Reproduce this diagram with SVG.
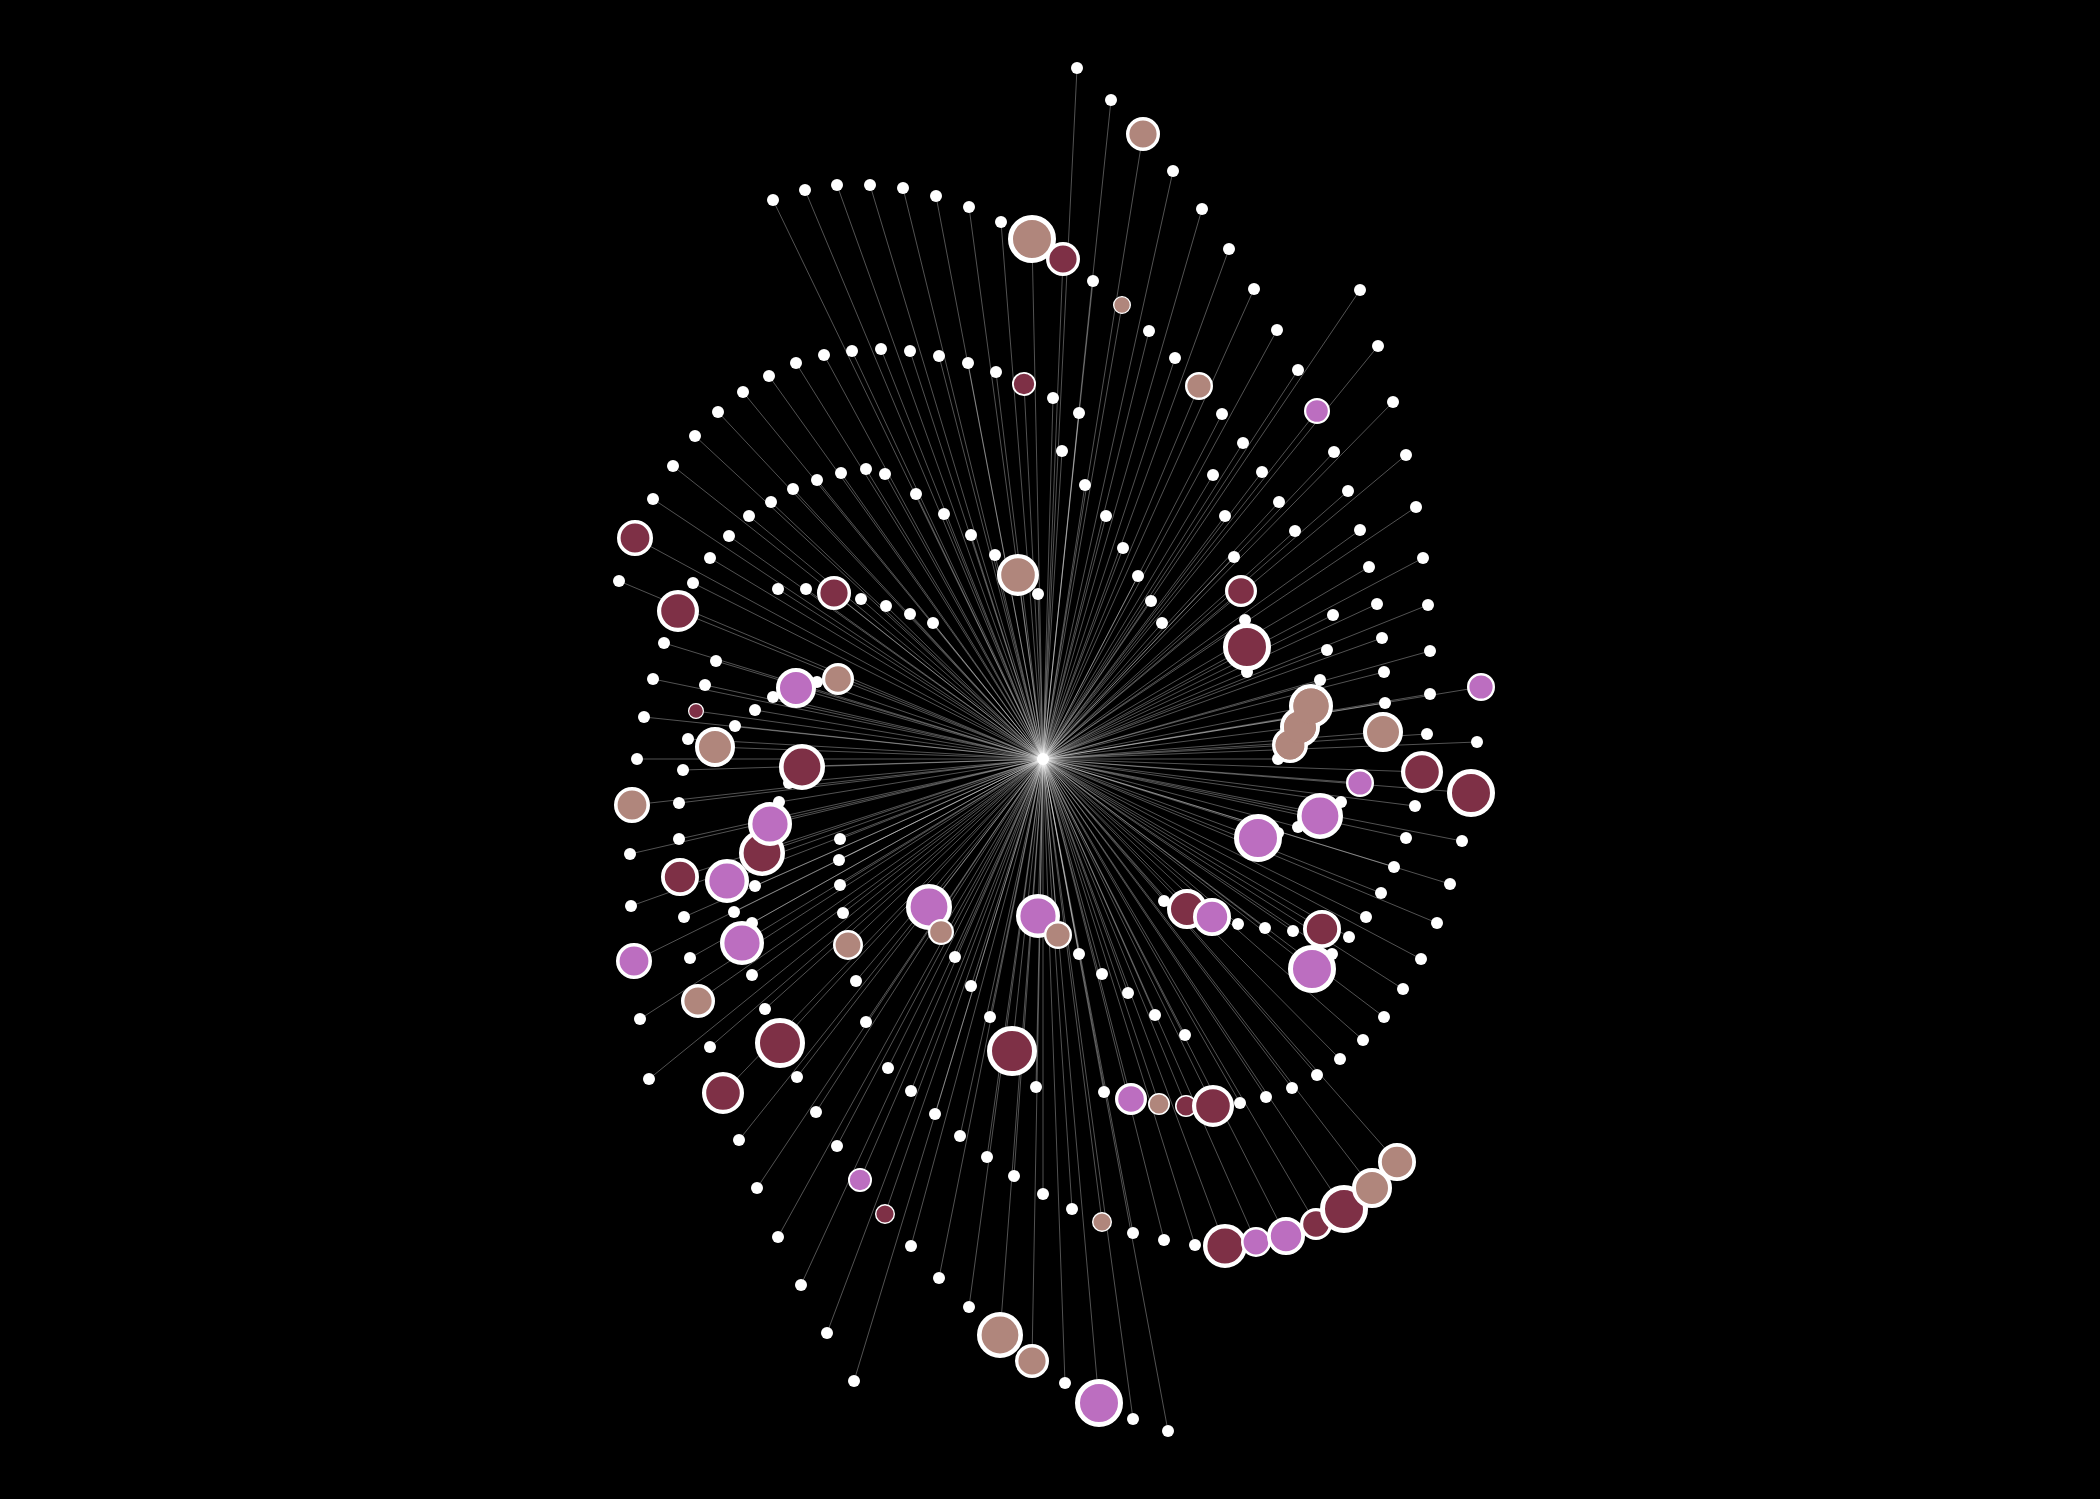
<svg xmlns="http://www.w3.org/2000/svg" width="2100" height="1499" viewBox="0 0 2100 1499">
<style>
.e path{stroke:#fff;stroke-opacity:.32;stroke-width:1;fill:none}
.w{fill:#fff}
.t{fill:#b0867c;stroke:#fff}
.m{fill:#7e3046;stroke:#fff}
.p{fill:#bc6ec0;stroke:#fff}
.tf{fill:#b0867c}
</style>
<rect width="2100" height="1499" fill="#000"/>
<g id="connectors" class="e">
<path d="M1043 759L773 200"/><path d="M1043 759L805 190"/><path d="M1043 759L837 185"/><path d="M1043 759L870 185"/><path d="M1043 759L903 188"/><path d="M1043 759L936 196"/><path d="M1043 759L969 207"/><path d="M1043 759L1001 222"/><path d="M1043 759L1093 281"/><path d="M1043 759L1149 331"/><path d="M1043 759L1175 358"/><path d="M1043 759L1222 414"/><path d="M1043 759L1243 443"/><path d="M1043 759L1262 472"/><path d="M1043 759L1279 502"/><path d="M1043 759L1295 531"/>
<path d="M1043 759L1077 68"/><path d="M1043 759L1111 100"/><path d="M1043 759L1173 171"/><path d="M1043 759L1202 209"/><path d="M1043 759L1229 249"/><path d="M1043 759L1254 289"/><path d="M1043 759L1277 330"/><path d="M1043 759L1298 370"/><path d="M1043 759L1334 452"/><path d="M1043 759L1348 491"/><path d="M1043 759L1360 530"/><path d="M1043 759L1369 567"/><path d="M1043 759L1377 604"/><path d="M1043 759L1382 638"/><path d="M1043 759L1384 672"/><path d="M1043 759L1385 703"/>
<path d="M1043 759L1360 290"/><path d="M1043 759L1378 346"/><path d="M1043 759L1393 402"/><path d="M1043 759L1406 455"/><path d="M1043 759L1416 507"/><path d="M1043 759L1423 558"/><path d="M1043 759L1428 605"/><path d="M1043 759L1430 651"/><path d="M1043 759L1430 694"/><path d="M1043 759L1427 734"/><path d="M1043 759L1415 806"/><path d="M1043 759L1406 838"/><path d="M1043 759L1394 867"/><path d="M1043 759L1381 893"/><path d="M1043 759L1366 917"/><path d="M1043 759L1349 937"/><path d="M1043 759L1293 931"/><path d="M1043 759L1265 928"/><path d="M1043 759L1238 924"/><path d="M1043 759L1164 901"/><path d="M1043 759L1332 954"/>
<path d="M1043 759L1477 742"/><path d="M1043 759L1462 841"/><path d="M1043 759L1450 884"/><path d="M1043 759L1437 923"/><path d="M1043 759L1421 959"/><path d="M1043 759L1403 989"/><path d="M1043 759L1384 1017"/><path d="M1043 759L1363 1040"/><path d="M1043 759L1340 1059"/><path d="M1043 759L1317 1075"/><path d="M1043 759L1292 1088"/><path d="M1043 759L1266 1097"/><path d="M1043 759L1240 1103"/><path d="M1043 759L1104 1092"/>
<path d="M1043 759L1333 615"/><path d="M1043 759L1327 650"/><path d="M1043 759L1320 680"/><path d="M1043 759L1278 759"/><path d="M1043 759L1341 802"/><path d="M1043 759L1298 827"/><path d="M1043 759L1278 833"/>
<path d="M1043 759L1213 475"/><path d="M1043 759L1225 516"/><path d="M1043 759L1234 557"/><path d="M1043 759L1245 620"/><path d="M1043 759L1247 672"/>
<path d="M1043 759L1053 398"/><path d="M1043 759L1079 413"/><path d="M1043 759L1062 451"/><path d="M1043 759L1085 485"/><path d="M1043 759L1106 516"/><path d="M1043 759L1123 548"/><path d="M1043 759L1138 576"/><path d="M1043 759L1151 601"/><path d="M1043 759L1162 623"/>
<path d="M1043 759L996 372"/><path d="M1043 759L968 363"/><path d="M1043 759L939 356"/><path d="M1043 759L910 351"/><path d="M1043 759L881 349"/><path d="M1043 759L852 351"/><path d="M1043 759L824 355"/><path d="M1043 759L796 363"/><path d="M1043 759L769 376"/><path d="M1043 759L743 392"/><path d="M1043 759L718 412"/><path d="M1043 759L695 436"/><path d="M1043 759L673 466"/><path d="M1043 759L653 499"/><path d="M1043 759L619 581"/>
<path d="M1043 759L944 514"/><path d="M1043 759L916 494"/><path d="M1043 759L885 474"/><path d="M1043 759L866 469"/><path d="M1043 759L841 473"/><path d="M1043 759L817 480"/><path d="M1043 759L793 489"/><path d="M1043 759L771 502"/><path d="M1043 759L749 516"/><path d="M1043 759L729 536"/><path d="M1043 759L710 558"/><path d="M1043 759L693 583"/><path d="M1043 759L664 643"/><path d="M1043 759L653 679"/><path d="M1043 759L644 717"/><path d="M1043 759L637 759"/><path d="M1043 759L630 854"/><path d="M1043 759L631 906"/><path d="M1043 759L640 1019"/><path d="M1043 759L649 1079"/>
<path d="M1043 759L971 535"/><path d="M1043 759L995 555"/><path d="M1043 759L1038 594"/><path d="M1043 759L778 589"/><path d="M1043 759L806 589"/><path d="M1043 759L861 599"/><path d="M1043 759L886 606"/><path d="M1043 759L910 614"/><path d="M1043 759L933 623"/>
<path d="M1043 759L716 661"/><path d="M1043 759L705 685"/><path d="M1043 759L688 739"/><path d="M1043 759L683 770"/><path d="M1043 759L679 803"/><path d="M1043 759L679 839"/><path d="M1043 759L684 917"/><path d="M1043 759L690 958"/><path d="M1043 759L710 1047"/><path d="M1043 759L739 1140"/><path d="M1043 759L757 1188"/><path d="M1043 759L778 1237"/><path d="M1043 759L801 1285"/><path d="M1043 759L827 1333"/><path d="M1043 759L854 1381"/>
<path d="M1043 759L773 697"/><path d="M1043 759L817 682"/><path d="M1043 759L755 710"/><path d="M1043 759L735 726"/><path d="M1043 759L789 783"/><path d="M1043 759L779 802"/><path d="M1043 759L755 886"/><path d="M1043 759L734 912"/><path d="M1043 759L752 923"/><path d="M1043 759L752 975"/><path d="M1043 759L765 1009"/><path d="M1043 759L797 1077"/><path d="M1043 759L816 1112"/><path d="M1043 759L837 1146"/><path d="M1043 759L911 1246"/><path d="M1043 759L939 1278"/><path d="M1043 759L969 1307"/><path d="M1043 759L1065 1383"/><path d="M1043 759L1133 1419"/><path d="M1043 759L1168 1431"/>
<path d="M1043 759L840 839"/><path d="M1043 759L839 860"/><path d="M1043 759L840 885"/><path d="M1043 759L843 913"/><path d="M1043 759L856 981"/><path d="M1043 759L866 1022"/><path d="M1043 759L888 1068"/><path d="M1043 759L911 1091"/><path d="M1043 759L935 1114"/><path d="M1043 759L960 1136"/><path d="M1043 759L987 1157"/><path d="M1043 759L1014 1176"/><path d="M1043 759L1043 1194"/><path d="M1043 759L1072 1209"/><path d="M1043 759L1133 1233"/><path d="M1043 759L1164 1240"/><path d="M1043 759L1195 1245"/>
<path d="M1043 759L955 957"/><path d="M1043 759L971 986"/><path d="M1043 759L990 1017"/><path d="M1043 759L1036 1087"/><path d="M1043 759L1079 954"/><path d="M1043 759L1102 974"/><path d="M1043 759L1128 993"/><path d="M1043 759L1155 1015"/><path d="M1043 759L1185 1035"/>
<path d="M1043 759L1032 239"/><path d="M1043 759L1063 259"/><path d="M1043 759L1122 305"/><path d="M1043 759L1199 386"/><path d="M1043 759L1143 134"/><path d="M1043 759L1317 411"/><path d="M1043 759L1383 732"/><path d="M1043 759L1422 772"/><path d="M1043 759L1322 929"/><path d="M1043 759L1312 969"/><path d="M1043 759L1187 909"/><path d="M1043 759L1212 917"/><path d="M1043 759L1481 687"/><path d="M1043 759L1471 793"/><path d="M1043 759L1131 1099"/><path d="M1043 759L1159 1104"/><path d="M1043 759L1186 1106"/><path d="M1043 759L1213 1106"/><path d="M1043 759L1290 745"/><path d="M1043 759L1300 727"/><path d="M1043 759L1311 706"/><path d="M1043 759L1360 783"/><path d="M1043 759L1320 816"/><path d="M1043 759L1258 838"/><path d="M1043 759L1241 591"/><path d="M1043 759L1247 647"/><path d="M1043 759L1024 384"/><path d="M1043 759L635 538"/><path d="M1043 759L678 611"/><path d="M1043 759L632 805"/><path d="M1043 759L634 961"/><path d="M1043 759L1018 575"/><path d="M1043 759L834 593"/><path d="M1043 759L696 711"/><path d="M1043 759L680 877"/><path d="M1043 759L698 1001"/><path d="M1043 759L723 1093"/><path d="M1043 759L796 688"/><path d="M1043 759L838 679"/><path d="M1043 759L715 747"/><path d="M1043 759L802 767"/><path d="M1043 759L762 853"/><path d="M1043 759L770 824"/><path d="M1043 759L727 881"/><path d="M1043 759L742 943"/><path d="M1043 759L780 1043"/><path d="M1043 759L860 1180"/><path d="M1043 759L885 1214"/><path d="M1043 759L1000 1335"/><path d="M1043 759L1032 1361"/><path d="M1043 759L1099 1403"/><path d="M1043 759L848 945"/><path d="M1043 759L1102 1222"/><path d="M1043 759L1225 1246"/><path d="M1043 759L1256 1242"/><path d="M1043 759L1286 1236"/><path d="M1043 759L1316 1224"/><path d="M1043 759L1344 1209"/><path d="M1043 759L1372 1188"/><path d="M1043 759L1397 1162"/><path d="M1043 759L929 907"/><path d="M1043 759L941 932"/><path d="M1043 759L1012 1051"/><path d="M1043 759L1038 916"/><path d="M1043 759L1058 935"/>
</g>
<g id="nodes">
<g id="w1"><circle class="w" cx="773" cy="200" r="6"/></g><g id="w2"><circle class="w" cx="805" cy="190" r="6"/></g><g id="w3"><circle class="w" cx="837" cy="185" r="6"/></g><g id="w4"><circle class="w" cx="870" cy="185" r="6"/></g><g id="w5"><circle class="w" cx="903" cy="188" r="6"/></g><g id="w6"><circle class="w" cx="936" cy="196" r="6"/></g><g id="w7"><circle class="w" cx="969" cy="207" r="6"/></g><g id="w8"><circle class="w" cx="1001" cy="222" r="6"/></g><g id="w9"><circle class="w" cx="1093" cy="281" r="6"/></g><g id="w10"><circle class="w" cx="1149" cy="331" r="6"/></g><g id="w11"><circle class="w" cx="1175" cy="358" r="6"/></g><g id="w12"><circle class="w" cx="1222" cy="414" r="6"/></g><g id="w13"><circle class="w" cx="1243" cy="443" r="6"/></g><g id="w14"><circle class="w" cx="1262" cy="472" r="6"/></g><g id="w15"><circle class="w" cx="1279" cy="502" r="6"/></g><g id="w16"><circle class="w" cx="1295" cy="531" r="6"/></g>
<g id="w17"><circle class="w" cx="1077" cy="68" r="6"/></g><g id="w18"><circle class="w" cx="1111" cy="100" r="6"/></g><g id="w19"><circle class="w" cx="1173" cy="171" r="6"/></g><g id="w20"><circle class="w" cx="1202" cy="209" r="6"/></g><g id="w21"><circle class="w" cx="1229" cy="249" r="6"/></g><g id="w22"><circle class="w" cx="1254" cy="289" r="6"/></g><g id="w23"><circle class="w" cx="1277" cy="330" r="6"/></g><g id="w24"><circle class="w" cx="1298" cy="370" r="6"/></g><g id="w25"><circle class="w" cx="1334" cy="452" r="6"/></g><g id="w26"><circle class="w" cx="1348" cy="491" r="6"/></g><g id="w27"><circle class="w" cx="1360" cy="530" r="6"/></g><g id="w28"><circle class="w" cx="1369" cy="567" r="6"/></g><g id="w29"><circle class="w" cx="1377" cy="604" r="6"/></g><g id="w30"><circle class="w" cx="1382" cy="638" r="6"/></g><g id="w31"><circle class="w" cx="1384" cy="672" r="6"/></g><g id="w32"><circle class="w" cx="1385" cy="703" r="6"/></g>
<g id="w33"><circle class="w" cx="1360" cy="290" r="6"/></g><g id="w34"><circle class="w" cx="1378" cy="346" r="6"/></g><g id="w35"><circle class="w" cx="1393" cy="402" r="6"/></g><g id="w36"><circle class="w" cx="1406" cy="455" r="6"/></g><g id="w37"><circle class="w" cx="1416" cy="507" r="6"/></g><g id="w38"><circle class="w" cx="1423" cy="558" r="6"/></g><g id="w39"><circle class="w" cx="1428" cy="605" r="6"/></g><g id="w40"><circle class="w" cx="1430" cy="651" r="6"/></g><g id="w41"><circle class="w" cx="1430" cy="694" r="6"/></g><g id="w42"><circle class="w" cx="1427" cy="734" r="6"/></g><g id="w43"><circle class="w" cx="1415" cy="806" r="6"/></g><g id="w44"><circle class="w" cx="1406" cy="838" r="6"/></g><g id="w45"><circle class="w" cx="1394" cy="867" r="6"/></g><g id="w46"><circle class="w" cx="1381" cy="893" r="6"/></g><g id="w47"><circle class="w" cx="1366" cy="917" r="6"/></g><g id="w48"><circle class="w" cx="1349" cy="937" r="6"/></g><g id="w49"><circle class="w" cx="1293" cy="931" r="6"/></g><g id="w50"><circle class="w" cx="1265" cy="928" r="6"/></g><g id="w51"><circle class="w" cx="1238" cy="924" r="6"/></g><g id="w52"><circle class="w" cx="1164" cy="901" r="6"/></g><g id="w53"><circle class="w" cx="1332" cy="954" r="6"/></g>
<g id="w54"><circle class="w" cx="1477" cy="742" r="6"/></g><g id="w55"><circle class="w" cx="1462" cy="841" r="6"/></g><g id="w56"><circle class="w" cx="1450" cy="884" r="6"/></g><g id="w57"><circle class="w" cx="1437" cy="923" r="6"/></g><g id="w58"><circle class="w" cx="1421" cy="959" r="6"/></g><g id="w59"><circle class="w" cx="1403" cy="989" r="6"/></g><g id="w60"><circle class="w" cx="1384" cy="1017" r="6"/></g><g id="w61"><circle class="w" cx="1363" cy="1040" r="6"/></g><g id="w62"><circle class="w" cx="1340" cy="1059" r="6"/></g><g id="w63"><circle class="w" cx="1317" cy="1075" r="6"/></g><g id="w64"><circle class="w" cx="1292" cy="1088" r="6"/></g><g id="w65"><circle class="w" cx="1266" cy="1097" r="6"/></g><g id="w66"><circle class="w" cx="1240" cy="1103" r="6"/></g><g id="w67"><circle class="w" cx="1104" cy="1092" r="6"/></g>
<g id="w68"><circle class="w" cx="1333" cy="615" r="6"/></g><g id="w69"><circle class="w" cx="1327" cy="650" r="6"/></g><g id="w70"><circle class="w" cx="1320" cy="680" r="6"/></g><g id="w71"><circle class="w" cx="1278" cy="759" r="6"/></g><g id="w72"><circle class="w" cx="1341" cy="802" r="6"/></g><g id="w73"><circle class="w" cx="1298" cy="827" r="6"/></g><g id="w74"><circle class="w" cx="1278" cy="833" r="6"/></g>
<g id="w75"><circle class="w" cx="1213" cy="475" r="6"/></g><g id="w76"><circle class="w" cx="1225" cy="516" r="6"/></g><g id="w77"><circle class="w" cx="1234" cy="557" r="6"/></g><g id="w78"><circle class="w" cx="1245" cy="620" r="6"/></g><g id="w79"><circle class="w" cx="1247" cy="672" r="6"/></g>
<g id="w80"><circle class="w" cx="1053" cy="398" r="6"/></g><g id="w81"><circle class="w" cx="1079" cy="413" r="6"/></g><g id="w82"><circle class="w" cx="1062" cy="451" r="6"/></g><g id="w83"><circle class="w" cx="1085" cy="485" r="6"/></g><g id="w84"><circle class="w" cx="1106" cy="516" r="6"/></g><g id="w85"><circle class="w" cx="1123" cy="548" r="6"/></g><g id="w86"><circle class="w" cx="1138" cy="576" r="6"/></g><g id="w87"><circle class="w" cx="1151" cy="601" r="6"/></g><g id="w88"><circle class="w" cx="1162" cy="623" r="6"/></g>
<g id="w89"><circle class="w" cx="996" cy="372" r="6"/></g><g id="w90"><circle class="w" cx="968" cy="363" r="6"/></g><g id="w91"><circle class="w" cx="939" cy="356" r="6"/></g><g id="w92"><circle class="w" cx="910" cy="351" r="6"/></g><g id="w93"><circle class="w" cx="881" cy="349" r="6"/></g><g id="w94"><circle class="w" cx="852" cy="351" r="6"/></g><g id="w95"><circle class="w" cx="824" cy="355" r="6"/></g><g id="w96"><circle class="w" cx="796" cy="363" r="6"/></g><g id="w97"><circle class="w" cx="769" cy="376" r="6"/></g><g id="w98"><circle class="w" cx="743" cy="392" r="6"/></g><g id="w99"><circle class="w" cx="718" cy="412" r="6"/></g><g id="w100"><circle class="w" cx="695" cy="436" r="6"/></g><g id="w101"><circle class="w" cx="673" cy="466" r="6"/></g><g id="w102"><circle class="w" cx="653" cy="499" r="6"/></g><g id="w103"><circle class="w" cx="619" cy="581" r="6"/></g>
<g id="w104"><circle class="w" cx="944" cy="514" r="6"/></g><g id="w105"><circle class="w" cx="916" cy="494" r="6"/></g><g id="w106"><circle class="w" cx="885" cy="474" r="6"/></g><g id="w107"><circle class="w" cx="866" cy="469" r="6"/></g><g id="w108"><circle class="w" cx="841" cy="473" r="6"/></g><g id="w109"><circle class="w" cx="817" cy="480" r="6"/></g><g id="w110"><circle class="w" cx="793" cy="489" r="6"/></g><g id="w111"><circle class="w" cx="771" cy="502" r="6"/></g><g id="w112"><circle class="w" cx="749" cy="516" r="6"/></g><g id="w113"><circle class="w" cx="729" cy="536" r="6"/></g><g id="w114"><circle class="w" cx="710" cy="558" r="6"/></g><g id="w115"><circle class="w" cx="693" cy="583" r="6"/></g><g id="w116"><circle class="w" cx="664" cy="643" r="6"/></g><g id="w117"><circle class="w" cx="653" cy="679" r="6"/></g><g id="w118"><circle class="w" cx="644" cy="717" r="6"/></g><g id="w119"><circle class="w" cx="637" cy="759" r="6"/></g><g id="w120"><circle class="w" cx="630" cy="854" r="6"/></g><g id="w121"><circle class="w" cx="631" cy="906" r="6"/></g><g id="w122"><circle class="w" cx="640" cy="1019" r="6"/></g><g id="w123"><circle class="w" cx="649" cy="1079" r="6"/></g>
<g id="w124"><circle class="w" cx="971" cy="535" r="6"/></g><g id="w125"><circle class="w" cx="995" cy="555" r="6"/></g><g id="w126"><circle class="w" cx="1038" cy="594" r="6"/></g><g id="w127"><circle class="w" cx="778" cy="589" r="6"/></g><g id="w128"><circle class="w" cx="806" cy="589" r="6"/></g><g id="w129"><circle class="w" cx="861" cy="599" r="6"/></g><g id="w130"><circle class="w" cx="886" cy="606" r="6"/></g><g id="w131"><circle class="w" cx="910" cy="614" r="6"/></g><g id="w132"><circle class="w" cx="933" cy="623" r="6"/></g>
<g id="w133"><circle class="w" cx="716" cy="661" r="6"/></g><g id="w134"><circle class="w" cx="705" cy="685" r="6"/></g><g id="w135"><circle class="w" cx="688" cy="739" r="6"/></g><g id="w136"><circle class="w" cx="683" cy="770" r="6"/></g><g id="w137"><circle class="w" cx="679" cy="803" r="6"/></g><g id="w138"><circle class="w" cx="679" cy="839" r="6"/></g><g id="w139"><circle class="w" cx="684" cy="917" r="6"/></g><g id="w140"><circle class="w" cx="690" cy="958" r="6"/></g><g id="w141"><circle class="w" cx="710" cy="1047" r="6"/></g><g id="w142"><circle class="w" cx="739" cy="1140" r="6"/></g><g id="w143"><circle class="w" cx="757" cy="1188" r="6"/></g><g id="w144"><circle class="w" cx="778" cy="1237" r="6"/></g><g id="w145"><circle class="w" cx="801" cy="1285" r="6"/></g><g id="w146"><circle class="w" cx="827" cy="1333" r="6"/></g><g id="w147"><circle class="w" cx="854" cy="1381" r="6"/></g>
<g id="w148"><circle class="w" cx="773" cy="697" r="6"/></g><g id="w149"><circle class="w" cx="817" cy="682" r="6"/></g><g id="w150"><circle class="w" cx="755" cy="710" r="6"/></g><g id="w151"><circle class="w" cx="735" cy="726" r="6"/></g><g id="w152"><circle class="w" cx="789" cy="783" r="6"/></g><g id="w153"><circle class="w" cx="779" cy="802" r="6"/></g><g id="w154"><circle class="w" cx="755" cy="886" r="6"/></g><g id="w155"><circle class="w" cx="734" cy="912" r="6"/></g><g id="w156"><circle class="w" cx="752" cy="923" r="6"/></g><g id="w157"><circle class="w" cx="752" cy="975" r="6"/></g><g id="w158"><circle class="w" cx="765" cy="1009" r="6"/></g><g id="w159"><circle class="w" cx="797" cy="1077" r="6"/></g><g id="w160"><circle class="w" cx="816" cy="1112" r="6"/></g><g id="w161"><circle class="w" cx="837" cy="1146" r="6"/></g><g id="w162"><circle class="w" cx="911" cy="1246" r="6"/></g><g id="w163"><circle class="w" cx="939" cy="1278" r="6"/></g><g id="w164"><circle class="w" cx="969" cy="1307" r="6"/></g><g id="w165"><circle class="w" cx="1065" cy="1383" r="6"/></g><g id="w166"><circle class="w" cx="1133" cy="1419" r="6"/></g><g id="w167"><circle class="w" cx="1168" cy="1431" r="6"/></g>
<g id="w168"><circle class="w" cx="840" cy="839" r="6"/></g><g id="w169"><circle class="w" cx="839" cy="860" r="6"/></g><g id="w170"><circle class="w" cx="840" cy="885" r="6"/></g><g id="w171"><circle class="w" cx="843" cy="913" r="6"/></g><g id="w172"><circle class="w" cx="856" cy="981" r="6"/></g><g id="w173"><circle class="w" cx="866" cy="1022" r="6"/></g><g id="w174"><circle class="w" cx="888" cy="1068" r="6"/></g><g id="w175"><circle class="w" cx="911" cy="1091" r="6"/></g><g id="w176"><circle class="w" cx="935" cy="1114" r="6"/></g><g id="w177"><circle class="w" cx="960" cy="1136" r="6"/></g><g id="w178"><circle class="w" cx="987" cy="1157" r="6"/></g><g id="w179"><circle class="w" cx="1014" cy="1176" r="6"/></g><g id="w180"><circle class="w" cx="1043" cy="1194" r="6"/></g><g id="w181"><circle class="w" cx="1072" cy="1209" r="6"/></g><g id="w182"><circle class="w" cx="1133" cy="1233" r="6"/></g><g id="w183"><circle class="w" cx="1164" cy="1240" r="6"/></g><g id="w184"><circle class="w" cx="1195" cy="1245" r="6"/></g>
<g id="w185"><circle class="w" cx="955" cy="957" r="6"/></g><g id="w186"><circle class="w" cx="971" cy="986" r="6"/></g><g id="w187"><circle class="w" cx="990" cy="1017" r="6"/></g><g id="w188"><circle class="w" cx="1036" cy="1087" r="6"/></g><g id="w189"><circle class="w" cx="1079" cy="954" r="6"/></g><g id="w190"><circle class="w" cx="1102" cy="974" r="6"/></g><g id="w191"><circle class="w" cx="1128" cy="993" r="6"/></g><g id="w192"><circle class="w" cx="1155" cy="1015" r="6"/></g><g id="w193"><circle class="w" cx="1185" cy="1035" r="6"/></g>
<g id="c1"><circle class="t" cx="1032" cy="239" r="21.5" stroke-width="5"/></g>
<g id="c2"><circle class="m" cx="1063" cy="259" r="15.3" stroke-width="3.4"/></g>
<g id="c3"><circle class="t" cx="1122" cy="305" r="8.35" stroke-width="1.3"/></g>
<g id="c4"><circle class="t" cx="1199" cy="386" r="12.8" stroke-width="2.4"/></g>
<g id="c5"><circle class="t" cx="1143" cy="134" r="15.3" stroke-width="3.4"/></g>
<g id="c6"><circle class="p" cx="1317" cy="411" r="11.9" stroke-width="2.2"/></g>
<g id="c7"><circle class="t" cx="1383" cy="732" r="18" stroke-width="4"/></g>
<g id="c8"><circle class="m" cx="1422" cy="772" r="18.9" stroke-width="4.2"/></g>
<g id="c9"><circle class="m" cx="1322" cy="929" r="17.1" stroke-width="3.8"/></g>
<g id="c10"><circle class="p" cx="1312" cy="969" r="21.5" stroke-width="5"/></g>
<g id="c11"><circle class="m" cx="1187" cy="909" r="18" stroke-width="4"/></g>
<g id="c12"><circle class="p" cx="1212" cy="917" r="17.1" stroke-width="3.8"/></g>
<g id="c13"><circle class="p" cx="1481" cy="687" r="12.8" stroke-width="2.4"/></g>
<g id="c14"><circle class="m" cx="1471" cy="793" r="21.5" stroke-width="5"/></g>
<g id="c15"><circle class="p" cx="1131" cy="1099" r="14.4" stroke-width="3.2"/></g>
<g id="c16"><circle class="t" cx="1159" cy="1104" r="10.2" stroke-width="1.6"/></g>
<g id="c17"><circle class="m" cx="1186" cy="1106" r="10.2" stroke-width="1.6"/></g>
<g id="c18"><circle class="m" cx="1213" cy="1106" r="18.9" stroke-width="4.2"/></g>
<g id="c19"><circle class="t" cx="1290" cy="745" r="16.2" stroke-width="3.6"/></g>
<g id="c20"><circle class="t" cx="1300" cy="727" r="18" stroke-width="4"/></g>
<g id="c21"><circle class="t" cx="1311" cy="706" r="19.8" stroke-width="4.4"/></g>
<g id="cluster-fill"><circle class="tf" cx="1290" cy="745" r="14.4"/><circle class="tf" cx="1300" cy="727" r="16"/><circle class="tf" cx="1311" cy="706" r="17.6"/></g>
<g id="c22"><circle class="p" cx="1360" cy="783" r="12.8" stroke-width="2.4"/></g>
<g id="c23"><circle class="p" cx="1320" cy="816" r="20.7" stroke-width="4.6"/></g>
<g id="c24"><circle class="p" cx="1258" cy="838" r="21.5" stroke-width="5"/></g>
<g id="c25"><circle class="m" cx="1241" cy="591" r="14.4" stroke-width="3.2"/></g>
<g id="c26"><circle class="m" cx="1247" cy="647" r="21.5" stroke-width="5"/></g>
<g id="c27"><circle class="m" cx="1024" cy="384" r="11.1" stroke-width="1.8"/></g>
<g id="c28"><circle class="m" cx="635" cy="538" r="16.2" stroke-width="3.6"/></g>
<g id="c29"><circle class="m" cx="678" cy="611" r="18.9" stroke-width="4.2"/></g>
<g id="c30"><circle class="t" cx="632" cy="805" r="16.2" stroke-width="3.6"/></g>
<g id="c31"><circle class="p" cx="634" cy="961" r="16.2" stroke-width="3.6"/></g>
<g id="c32"><circle class="t" cx="1018" cy="575" r="18.9" stroke-width="4.2"/></g>
<g id="c33"><circle class="m" cx="834" cy="593" r="15.3" stroke-width="3.4"/></g>
<g id="c34"><circle class="m" cx="696" cy="711" r="7.4" stroke-width="1.2"/></g>
<g id="c35"><circle class="m" cx="680" cy="877" r="17.1" stroke-width="3.8"/></g>
<g id="c36"><circle class="t" cx="698" cy="1001" r="15.3" stroke-width="3.4"/></g>
<g id="c37"><circle class="m" cx="723" cy="1093" r="18.9" stroke-width="4.2"/></g>
<g id="c38"><circle class="p" cx="796" cy="688" r="18" stroke-width="4"/></g>
<g id="c39"><circle class="t" cx="838" cy="679" r="14.4" stroke-width="3.2"/></g>
<g id="c40"><circle class="t" cx="715" cy="747" r="18" stroke-width="4"/></g>
<g id="c41"><circle class="m" cx="802" cy="767" r="20.7" stroke-width="4.6"/></g>
<g id="c42"><circle class="m" cx="762" cy="853" r="20.7" stroke-width="4.6"/></g>
<g id="c43"><circle class="p" cx="770" cy="824" r="19.8" stroke-width="4.4"/></g>
<g id="c44"><circle class="p" cx="727" cy="881" r="19.8" stroke-width="4.4"/></g>
<g id="c45"><circle class="p" cx="742" cy="943" r="19.8" stroke-width="4.4"/></g>
<g id="c46"><circle class="m" cx="780" cy="1043" r="22.5" stroke-width="5"/></g>
<g id="c47"><circle class="p" cx="860" cy="1180" r="11.1" stroke-width="1.8"/></g>
<g id="c48"><circle class="m" cx="885" cy="1214" r="9.3" stroke-width="1.4"/></g>
<g id="c49"><circle class="t" cx="1000" cy="1335" r="20.7" stroke-width="4.6"/></g>
<g id="c50"><circle class="t" cx="1032" cy="1361" r="15.3" stroke-width="3.4"/></g>
<g id="c51"><circle class="p" cx="1099" cy="1403" r="21.5" stroke-width="5"/></g>
<g id="c52"><circle class="t" cx="848" cy="945" r="13.7" stroke-width="2.6"/></g>
<g id="c53"><circle class="t" cx="1102" cy="1222" r="9.3" stroke-width="1.4"/></g>
<g id="c54"><circle class="m" cx="1225" cy="1246" r="19.8" stroke-width="4.4"/></g>
<g id="c55"><circle class="p" cx="1256" cy="1242" r="13.7" stroke-width="2.6"/></g>
<g id="c56"><circle class="p" cx="1286" cy="1236" r="17.1" stroke-width="3.8"/></g>
<g id="c57"><circle class="m" cx="1316" cy="1224" r="14.4" stroke-width="3.2"/></g>
<g id="c58"><circle class="m" cx="1344" cy="1209" r="21.5" stroke-width="5"/></g>
<g id="c59"><circle class="t" cx="1372" cy="1188" r="18" stroke-width="4"/></g>
<g id="c60"><circle class="t" cx="1397" cy="1162" r="17.1" stroke-width="3.8"/></g>
<g id="c61"><circle class="p" cx="929" cy="907" r="20.7" stroke-width="4.6"/></g>
<g id="c62"><circle class="t" cx="941" cy="932" r="11.9" stroke-width="2.2"/></g>
<g id="c63"><circle class="m" cx="1012" cy="1051" r="22.5" stroke-width="5"/></g>
<g id="c64"><circle class="p" cx="1038" cy="916" r="19.8" stroke-width="4.4"/></g>
<g id="c65"><circle class="t" cx="1058" cy="935" r="12.8" stroke-width="2.4"/></g>
<g id="center"><circle class="w" cx="1043" cy="759" r="6"/></g>
</g>
</svg>
